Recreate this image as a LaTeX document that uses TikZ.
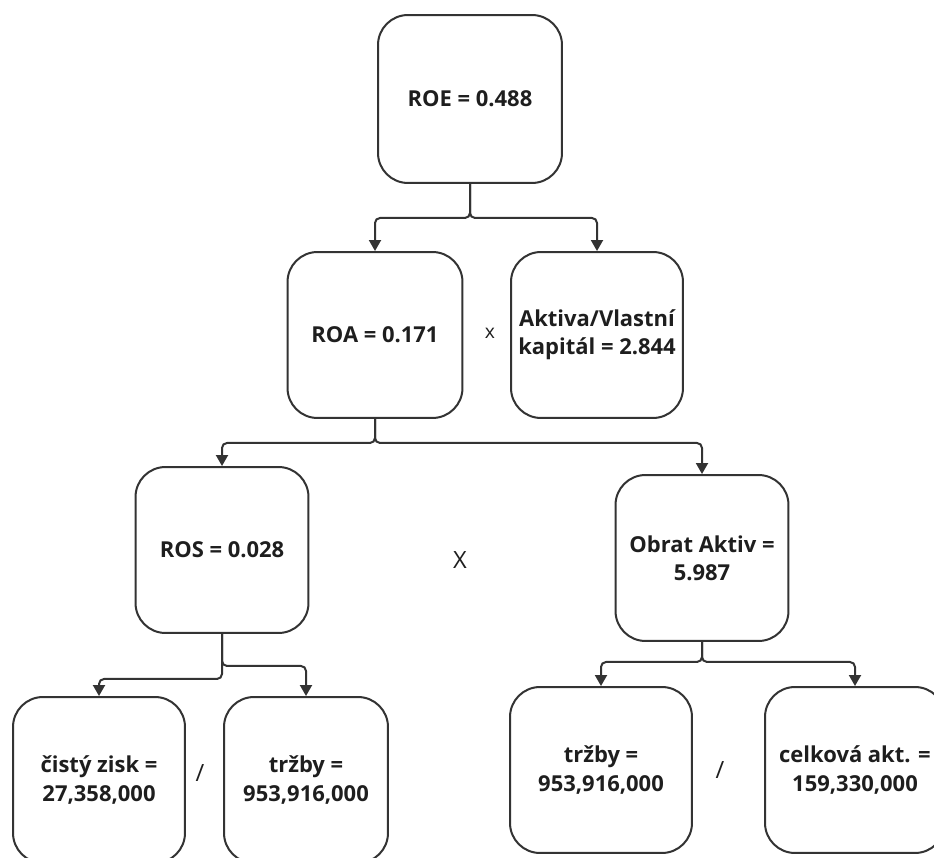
\documentclass[tikz,border=0pt]{standalone}
\usepackage{fontspec}
\setmainfont{Open Sans}
\usetikzlibrary{calc, arrows.meta}

\begin{document}
\begin{tikzpicture}[
    x=0.02cm, y=-0.02cm,
    >={Triangle[length=0.22cm, width=0.24cm]},
]

\definecolor{line_color}{RGB}{51,51,51}
\definecolor{text_color}{RGB}{30,30,30}

\tikzstyle{box} = [rectangle, rounded corners=0.6cm, minimum width=3.44cm, minimum height=3.32cm, align=center, draw=line_color, line width=0.4mm, text=text_color, font=\fontsize{12.5}{16}\selectfont\bfseries]
\tikzstyle{op} = [text=text_color, font=\fontsize{13.5}{16}\selectfont]
\tikzstyle{link} = [->, draw=line_color, line width=0.4mm, rounded corners=0.1cm]

\useasboundingbox (0,0) rectangle (934,858);

\node (roe) [box, minimum width=3.68cm, minimum height=3.36cm] at (470,99) {ROE = 0.488};

\node (roa) [box, minimum width=3.5cm] at (375,335) {ROA = 0.171};
\node (aktiva) [box] at (597,335) {Aktiva/Vlastní\\kapitál = 2.844};
\node (times1) [op, font=\fontsize{11}{13}\selectfont] at (490,333) {x};

\node (ros) [box, minimum width=3.46cm] at (222,550) {ROS = 0.028};
\node (obrat) [box, minimum width=3.46cm] at (702,558) {Obrat Aktiv =\\5.987};
\node (times2) [op] at (460,560) {X};

\node (zisk) [box] at (99,780) {čistý zisk =\\27,358,000};
\node (trzby1) [box, minimum width=3.28cm] at (306,780) {tržby =\\953,916,000};
\node (div1) [op] at (200,773) {/};

\node (trzby2) [box, minimum width=3.64cm] at (601,770) {tržby =\\953,916,000};
\node (celk) [box, minimum width=3.6cm] at (855,770) {celková akt. =\\159,330,000};
\node (div2) [op] at (720,770) {/};

\draw[link] (roe.south) -- ++(0,34) -| (roa.north);
\draw[link] (roe.south) -- ++(0,34) -| (aktiva.north);

\draw[link] (roa.south) -- ++(0,24) -| (ros.north);
\draw[link] (roa.south) -- ++(0,24) -| (obrat.north);

\draw[link] (ros.south) -- ++(0,45) -| (zisk.north);
\draw[link] (ros.south) -- ++(0,32) -| (trzby1.north);

\draw[link] (obrat.south) -- ++(0,20) -| (trzby2.north);
\draw[link] (obrat.south) -- ++(0,20) -| (celk.north);

\end{tikzpicture}
\end{document}
